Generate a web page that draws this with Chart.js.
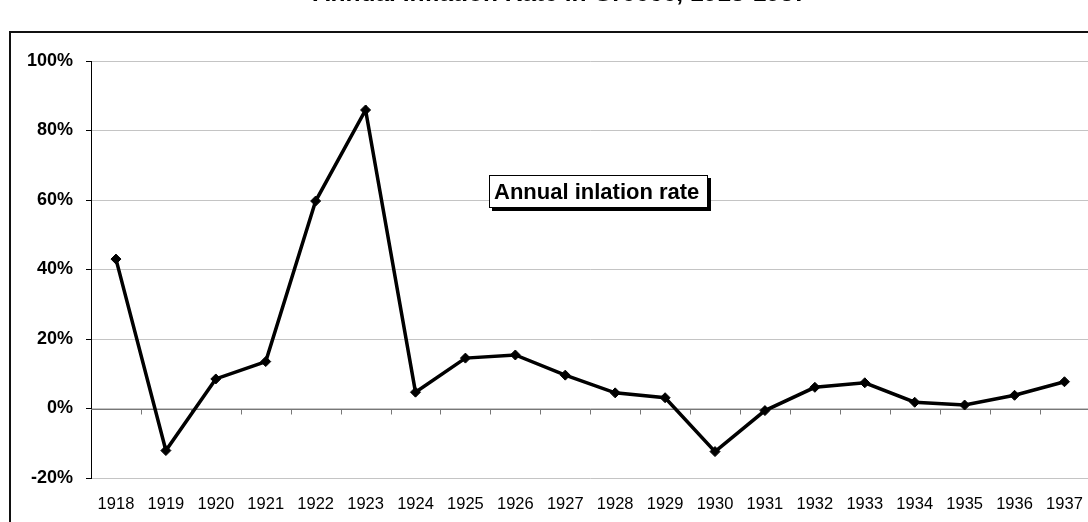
<!DOCTYPE html>
<html>
<head>
<meta charset="utf-8">
<script src="https://cdn.jsdelivr.net/npm/chart.js"></script>
<style>
  html, body { margin: 0; padding: 0; background: #fff; overflow: hidden; }
  #wrap { position: relative; width: 1100px; height: 522px; }
  #frame { position: absolute; left: 9px; top: 31px; width: 1200px; height: 600px; border: 2px solid #111; box-sizing: border-box; }
  canvas { position: absolute; left: 0; top: 0; }
</style>
</head>
<body>
<div id="wrap">
  <div id="frame"></div>
  <canvas id="chart" width="1100" height="522"></canvas>
</div>
<script>
const years = ["1918","1919","1920","1921","1922","1923","1924","1925","1926","1927",
               "1928","1929","1930","1931","1932","1933","1934","1935","1936","1937"];
const inflation = [43.0, -12.1, 8.5, 13.5, 59.7, 85.9, 4.7, 14.5, 15.4, 9.6,
                   4.5, 3.1, -12.4, -0.6, 6.1, 7.4, 1.8, 1.0, 3.8, 7.7];
const yTicks = { min: -20, max: 100, step: 20 };
const titleText = "Annual Inflation Rate in Greece, 1918-1937";
const seriesLabel = "Annual inlation rate";

// zero axis line with tick marks at category boundaries (Excel style)
const zeroAxis = {
  id: "zeroAxis",
  beforeDatasetsDraw(chart) {
    const { ctx, chartArea, scales } = chart;
    const y0 = Math.round(scales.y.getPixelForValue(0)) + 0.5;
    ctx.save();
    ctx.strokeStyle = "#777";
    ctx.lineWidth = 1;
    ctx.beginPath();
    ctx.moveTo(chartArea.left, y0);
    ctx.lineTo(chartArea.right, y0);
    for (let i = 1; i < years.length; i++) {
      const x = Math.round((scales.x.getPixelForValue(i - 1) + scales.x.getPixelForValue(i)) / 2) + 0.5;
      ctx.moveTo(x, y0);
      ctx.lineTo(x, y0 + 5);
    }
    ctx.stroke();
    ctx.restore();
  }
};

// cut-off title and the boxed series label
const decorations = {
  id: "decorations",
  afterDraw(chart) {
    const { ctx } = chart;
    ctx.save();
    ctx.fillStyle = "#000";
    ctx.font = "bold 24.5px 'Liberation Sans', Arial, sans-serif";
    ctx.textAlign = "center";
    ctx.textBaseline = "alphabetic";
    ctx.fillText(titleText, 560, 1);

    // label box with shadow
    const bx = 489, by = 175, bw = 219, bh = 33;
    ctx.fillStyle = "#000";
    ctx.fillRect(bx + 3, by + 3, bw, bh);
    ctx.fillStyle = "#fff";
    ctx.fillRect(bx, by, bw, bh);
    ctx.strokeStyle = "#000";
    ctx.lineWidth = 1;
    ctx.strokeRect(bx + 0.5, by + 0.5, bw - 1, bh - 1);
    ctx.fillStyle = "#000";
    ctx.font = "bold 22px 'Liberation Sans', Arial, sans-serif";
    ctx.textAlign = "left";
    ctx.textBaseline = "middle";
    ctx.fillText(seriesLabel, bx + 5, by + bh / 2 + 1);
    ctx.restore();
  }
};

new Chart(document.getElementById("chart"), {
  type: "line",
  data: {
    labels: years,
    datasets: [{
      label: seriesLabel,
      data: inflation,
      borderColor: "#000",
      backgroundColor: "#000",
      borderWidth: 3.5,
      pointStyle: "rectRot",
      pointRadius: 5,
      pointBorderWidth: 1,
      tension: 0
    }]
  },
  options: {
    responsive: false,
    animation: false,
    layout: { padding: { left: 0, top: 61, right: 7, bottom: 0 } },
    plugins: { legend: { display: false }, tooltip: { enabled: false }, title: { display: false } },
    scales: {
      x: {
        offset: true,
        grid: { display: false, drawTicks: false, tickLength: 0 },
        border: { display: false },
        ticks: {
          color: "#000",
          padding: 17,
          maxRotation: 0,
          autoSkip: false,
          font: { family: "'Liberation Sans', Arial, sans-serif", size: 16.5 }
        },
        afterFit(scale) { scale.height = 44; }
      },
      y: {
        min: yTicks.min,
        max: yTicks.max,
        grid: { color: "#c4c4c4", tickColor: "#000", tickLength: 5, lineWidth: 1 },
        border: { display: true, color: "#000", width: 1 },
        ticks: {
          stepSize: yTicks.step,
          color: "#000",
          padding: 13,
          font: { family: "'Liberation Sans', Arial, sans-serif", size: 18, weight: "bold" },
          callback: v => v + "%"
        },
        afterFit(scale) { scale.width = 91; }
      }
    }
  },
  plugins: [zeroAxis, decorations]
});
</script>
</body>
</html>
